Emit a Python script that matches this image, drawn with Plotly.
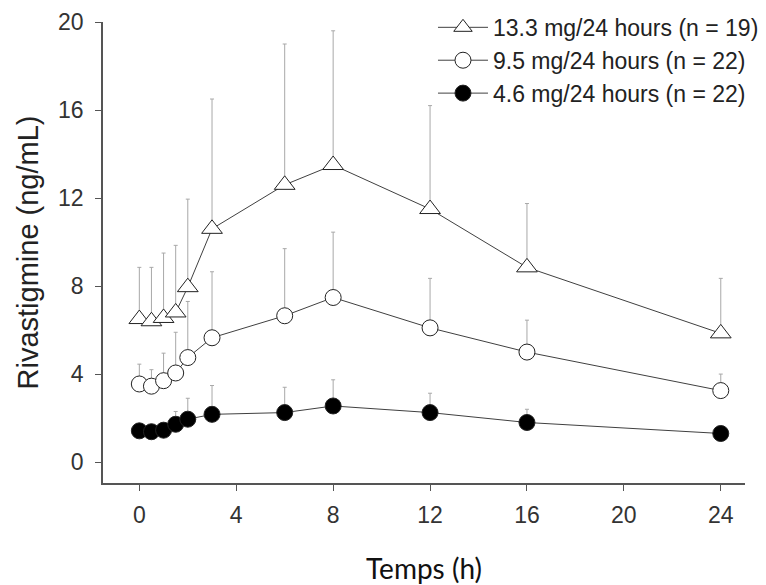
import plotly.graph_objects as go

# Data
time_h = [0, 0.5, 1, 1.5, 2, 3, 6, 8, 12, 16, 24]
names = ["13.3 mg/24 hours (n = 19)", "9.5 mg/24 hours (n = 22)", "4.6 mg/24 hours (n = 22)"]
mean_13_3 = [6.5, 6.4, 6.55, 6.8, 7.95, 10.6, 12.6, 13.5, 11.5, 8.85, 5.85]
sd_13_3 = [2.35, 2.45, 2.95, 3.05, 4.0, 5.9, 6.4, 6.1, 4.7, 2.9, 2.5]
mean_9_5 = [3.55, 3.45, 3.7, 4.05, 4.75, 5.65, 6.65, 7.48, 6.1, 5.0, 3.25]
sd_9_5 = [0.9, 0.75, 1.25, 1.85, 2.55, 3.0, 3.05, 2.97, 2.25, 1.45, 0.75]
mean_4_6 = [1.42, 1.38, 1.45, 1.72, 1.95, 2.17, 2.25, 2.55, 2.25, 1.8, 1.3]
sd_4_6 = [0.28, 0.32, 0.35, 0.58, 0.95, 1.31, 1.15, 1.19, 0.88, 0.6, 0.25]
x_ticks = [0, 4, 8, 12, 16, 20, 24]
y_ticks = [0, 4, 8, 12, 16, 20]

series = [
    (names[0], mean_13_3, sd_13_3, "triangle-up", "white", 18),
    (names[1], mean_9_5, sd_9_5, "circle", "white", 16),
    (names[2], mean_4_6, sd_4_6, "circle", "black", 16),
]

fig = go.Figure()
for name, m, sd, sym, fill, size in series:
    fig.add_trace(go.Scatter(
        x=time_h, y=m, name=name, mode="lines+markers",
        line=dict(color="#404040", width=1),
        marker=dict(symbol=sym, size=size, color=fill, line=dict(color="#222222", width=1)),
        error_y=dict(type="data", array=sd, arrayminus=[0] * len(sd), symmetric=False,
                     color="#a8a8a8", thickness=1, width=2),
    ))

axis_common = dict(showgrid=False, zeroline=False, showline=True, linecolor="#555555", linewidth=1.5,
                   ticks="outside", ticklen=6, tickcolor="#555555", tickwidth=1.2,
                   tickfont=dict(family="Liberation Sans, Arial", size=23, color="#333333"))

fig.update_xaxes(range=[-1.5, 25], tickvals=x_ticks, ticklabelstandoff=5, **axis_common,
                 title=dict(text="Temps (h)", font=dict(family="Lato", size=28, color="#111111"), standoff=32))
fig.update_yaxes(range=[-0.95, 20], tickvals=y_ticks, ticklabelstandoff=7, **axis_common,
                 title=dict(text="Rivastigmine (ng/mL)", font=dict(family="Liberation Sans, Arial", size=29, color="#222222"), standoff=11))

fig.update_layout(
    width=766, height=585,
    margin=dict(l=103, r=21, t=22, b=102, autoexpand=False),
    plot_bgcolor="white", paper_bgcolor="white",
    showlegend=True,
    legend=dict(x=0.514, y=1.035, xanchor="left", yanchor="top", bgcolor="rgba(0,0,0,0)",
                font=dict(family="Liberation Sans, Arial", size=23, color="#222222"),
                tracegroupgap=0, itemwidth=50),
)

fig.write_html("out.html")
